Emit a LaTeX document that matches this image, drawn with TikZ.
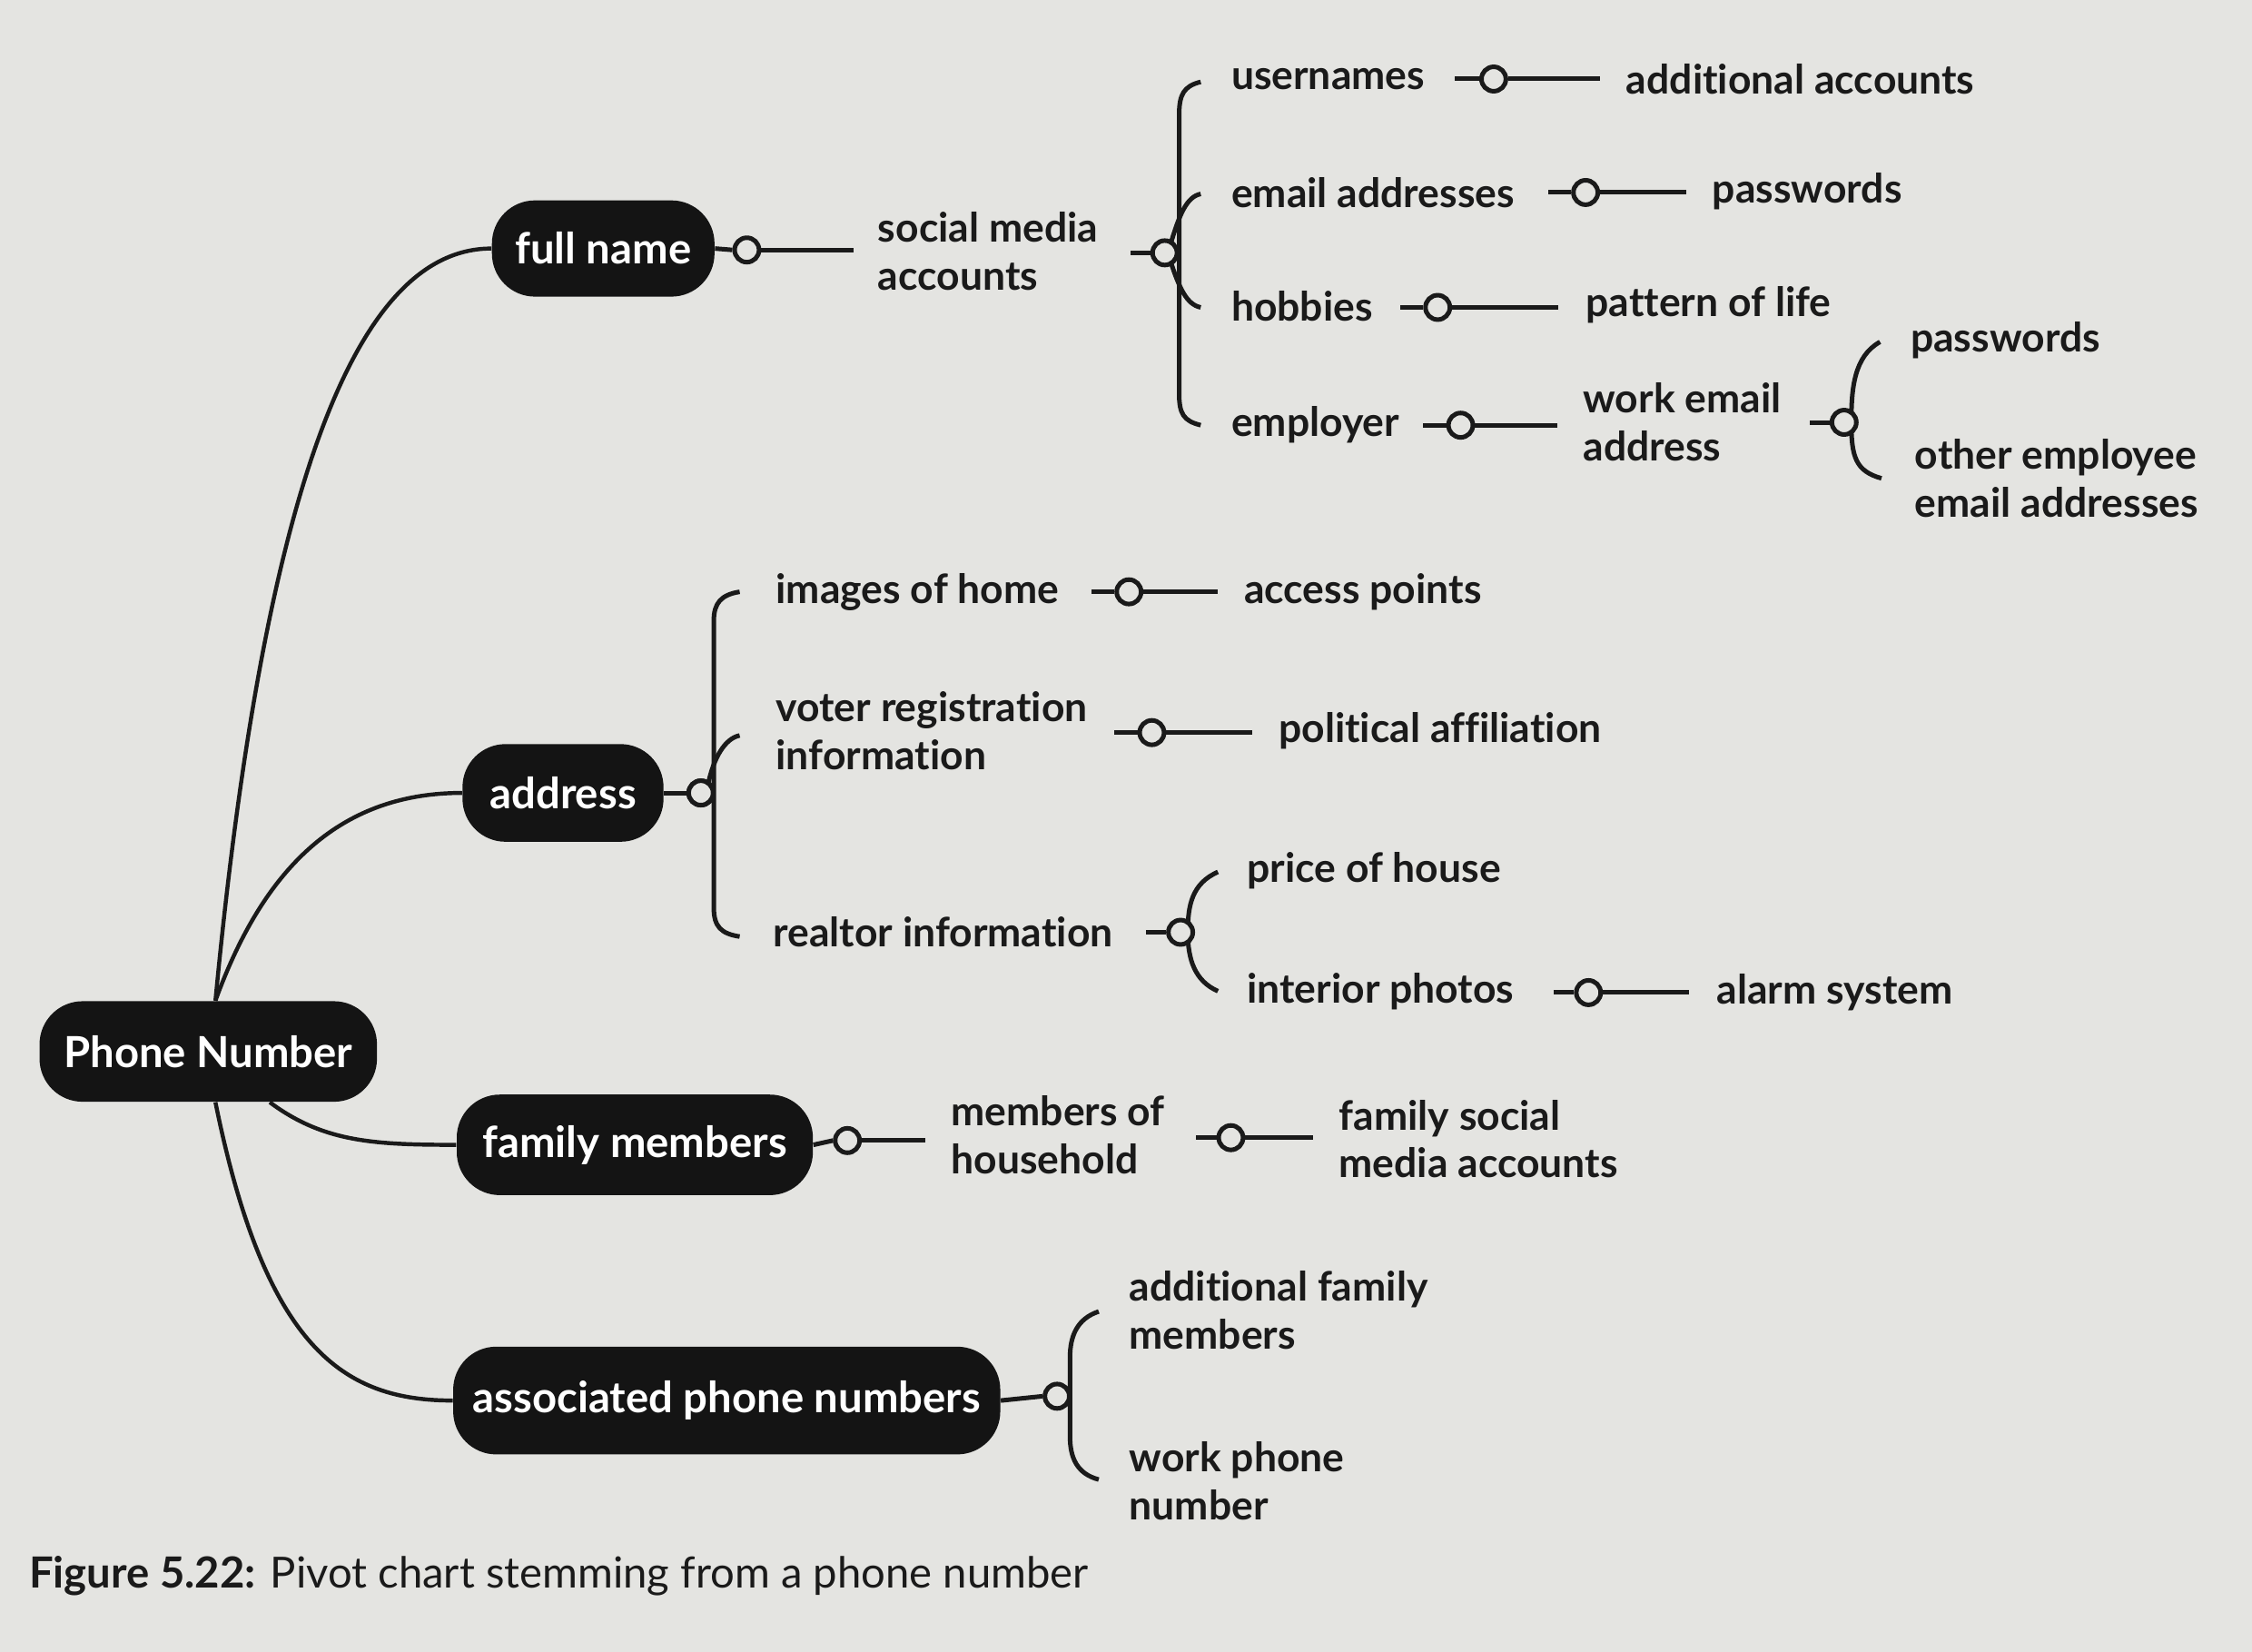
\documentclass[tikz,border=0pt]{standalone}
\usepackage{fontspec}
\setmainfont{Lato}[Ligatures=NoCommon]
\definecolor{paper}{HTML}{E4E4E1}
\definecolor{ink}{HTML}{1A1A1A}
\definecolor{pillc}{HTML}{141414}
\newcommand{\lblfont}{\fontsize{16}{19}\selectfont\bfseries}
\newcommand{\pillfont}{\fontsize{17}{20}\selectfont\bfseries}
\newcommand{\capfont}{\fontsize{17}{20}\selectfont}
\begin{document}
\begin{tikzpicture}[x=0.02cm,y=-0.02cm,
  lbl/.style={anchor=west, align=left, font=\lblfont, text=ink, inner sep=0pt},
  pill/.style={fill=pillc, text=white, rounded corners=0.6cm, font=\pillfont, inner sep=0pt},
  knob/.style={circle, draw=ink, fill=paper, line width=1.8pt, minimum size=0.34cm, inner sep=0pt},
  wire/.style={draw=ink, line width=1.8pt},
  trunk/.style={draw=ink, line width=1.6pt}]
\fill[paper] (0,0) rectangle (1568,1150);
\useasboundingbox (0,0) rectangle (1568,1150);

% main pills
\node[pill, minimum width=4.7cm, minimum height=1.4cm] (phone) at (145,732) {Phone Number};
\node[pill, minimum width=3.1cm, minimum height=1.34cm] (full) at (420,173) {full name};
\node[pill, minimum width=2.8cm, minimum height=1.36cm] (addr) at (392,552) {address};
\node[pill, minimum width=4.96cm, minimum height=1.4cm] (fam) at (442,797) {family members};
\node[pill, minimum width=7.62cm, minimum height=1.5cm] (assoc) at (506,975) {associated phone numbers};

% trunks
\draw[trunk] (phone.north) ++(5,0) coordinate (p1) .. controls (185,330) and (250,173) .. (full.west);
\draw[trunk] (p1) .. controls (185,600) and (240,552) .. (addr.west);
\draw[trunk] (phone.south east) ++(-75,0) coordinate (p3) .. controls (225,795) and (260,797) .. (fam.west);
\draw[trunk] (phone.south) ++(5,0) coordinate (p4) .. controls (185,940) and (240,975) .. (assoc.west);

% ---------- full name branch
\node[knob] (k1) at (520,174) {};
\draw[wire] (full.east) -- (k1.west);
\node[lbl] (sma) at (611,175) {social media\\accounts};
\draw[wire] (k1.east) -- ++(64,0);

% brace 1
\draw[wire] (836,57) .. controls (824,60) and (821,66) .. (821,80) -- (821,274) .. controls (821,288) and (824,293) .. (836,296);
\draw[wire] (815,170) .. controls (821,150) and (826,137) .. (836,135);
\draw[wire] (815,182) .. controls (821,200) and (826,212) .. (836,214);
\node[knob] (b1) at (811,176) {};
\draw[wire] (b1.west) -- ++(-14,0);

\node[lbl] (user) at (857,55) {usernames};
\node[knob] (k2) at (1040,55) {};
\draw[wire] (k2.west) -- ++(-17,0);
\draw[wire] (k2.east) -- ++(64,0);
\node[lbl] (addacc) at (1132,55) {additional accounts};

\node[lbl] (email) at (857,134) {email addresses};
\node[knob] (k3) at (1104,134) {};
\draw[wire] (k3.west) -- ++(-16,0);
\draw[wire] (k3.east) -- ++(60,0);
\node[lbl] (pw1) at (1192,133) {passwords};

\node[lbl] (hob) at (857,213) {hobbies};
\node[knob] (k4) at (1001,214) {};
\draw[wire] (k4.west) -- ++(-16,0);
\draw[wire] (k4.east) -- ++(74,0);
\node[lbl] (pol) at (1104,212) {pattern of life};

\node[lbl] (emp) at (857,296) {employer};
\node[knob] (k5) at (1017,296) {};
\draw[wire] (k5.west) -- ++(-16,0);
\draw[wire] (k5.east) -- ++(57,0);
\node[lbl] (wea) at (1102,294) {work email\\address};

% brace 2
\draw[wire] (1309,238) .. controls (1291,248) and (1289,270) .. (1289,294) .. controls (1289,318) and (1292,328) .. (1310,333);
\node[knob] (b2) at (1284,294) {};
\draw[wire] (b2.west) -- ++(-14,0);
\node[lbl] (pw2) at (1330,237) {passwords};
\node[lbl] (oee) at (1333,333) {other employee\\email addresses};

% ---------- address branch
\node[knob] (b3) at (488,552) {};
\draw[wire] (addr.east) -- (b3.west);
\draw[wire] (515,412) .. controls (502,414) and (497,420) .. (497,432) -- (497,632) .. controls (497,645) and (502,650) .. (515,652);
\draw[wire] (493,546) .. controls (497,527) and (505,514) .. (515,512);
\node[knob] at (488,552) {};

\node[lbl] (img) at (540,412) {images of home};
\node[knob] (k6) at (786,412) {};
\draw[wire] (k6.west) -- ++(-16,0);
\draw[wire] (k6.east) -- ++(52,0);
\node[lbl] (acc) at (866,412) {access points};

\node[lbl] (vote) at (540,509) {voter registration\\information};
\node[knob] (k7) at (802,510) {};
\draw[wire] (k7.west) -- ++(-16,0);
\draw[wire] (k7.east) -- ++(60,0);
\node[lbl] (polaff) at (890,509) {political affiliation};

\node[lbl] (realt) at (538,649) {realtor information};
\draw[wire] (848,607) .. controls (830,615) and (827,630) .. (827,649) .. controls (827,668) and (832,683) .. (848,690);
\node[knob] (b4) at (822,649) {};
\draw[wire] (b4.west) -- ++(-14,0);
\node[lbl] (price) at (868,606) {price of house};
\node[lbl] (intp) at (868,690) {interior photos};
\node[knob] (k8) at (1106,691) {};
\draw[wire] (k8.west) -- ++(-14,0);
\draw[wire] (k8.east) -- ++(60,0);
\node[lbl] (alarm) at (1195,691) {alarm system};

% ---------- family branch
\node[knob] (k9) at (590,794) {};
\draw[wire] (fam.east) -- (k9.west);
\draw[wire] (k9.east) -- ++(44,0);
\node[lbl] (moh) at (662,790) {members of\\household};
\node[knob] (k10) at (857,792) {};
\draw[wire] (k10.west) -- ++(-14,0);
\draw[wire] (k10.east) -- ++(47,0);
\node[lbl] (fsma) at (932,793) {family social\\media accounts};

% ---------- associated branch
\draw[wire] (765,913) .. controls (750,918) and (745,930) .. (745,945) -- (745,1000) .. controls (745,1015) and (750,1026) .. (765,1030);
\node[knob] (b5) at (736,972) {};
\draw[wire] (assoc.east) -- (b5.west);
\node[lbl] (afm) at (786,912) {additional family\\members};
\node[lbl] (wpn) at (786,1031) {work phone\\number};

% caption
\node[anchor=west, inner sep=0pt, font=\capfont, text=ink] (cap) at (20,1097) {\textbf{Figure 5.22:} Pivot chart stemming from a phone number};
\end{tikzpicture}
\end{document}
